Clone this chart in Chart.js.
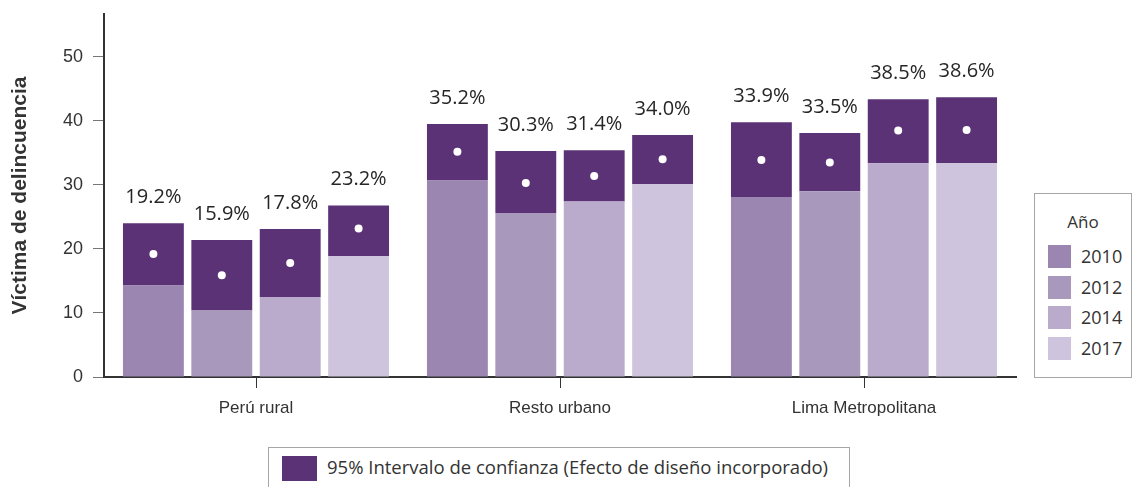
<!DOCTYPE html>
<html>
<head>
<meta charset="utf-8">
<script src="https://cdn.jsdelivr.net/npm/chart.js@4"></script>
<style>
  body { margin: 0; background: #fff; }
  #wrap { position: relative; width: 1134px; height: 487px; overflow: hidden; }
  #chart { position: absolute; left: 0; top: 0; }
  .box { position: absolute; border: 1px solid #a6a6a6; background: #fff; font-family: "Open Sans", sans-serif; color: #333; }
  #yearLegend { left: 1034px; top: 193px; width: 96px; height: 183px; }
  #yearLegend .title { position: absolute; left: 0; width: 96px; top: 16px; text-align: center; font-size: 17px; }
  #yearLegend .item { position: absolute; left: 13px; font-size: 18px; line-height: 23px; }
  #yearLegend .sw { display: inline-block; width: 23px; height: 23px; vertical-align: top; margin-right: 10px; }
  #ciLegend { left: 268px; top: 447px; width: 580px; height: 50px; }
  #ciLegend .sw { position: absolute; left: 13px; top: 8px; width: 35px; height: 25px; background: #5b3276; }
  #ciLegend .txt { position: absolute; left: 58px; top: 6px; font-size: 18.5px; white-space: nowrap; }
</style>
</head>
<body>
<div id="wrap">
  <canvas id="chart" width="1134" height="487"></canvas>
  <div class="box" id="yearLegend"><div class="title">Año</div></div>
  <div class="box" id="ciLegend"><div class="sw"></div><div class="txt">95% Intervalo de confianza (Efecto de diseño incorporado)</div></div>
</div>
<script>
"use strict";

var categories = ["Perú rural", "Resto urbano", "Lima Metropolitana"];
var years = ["2010", "2012", "2014", "2017"];

// point estimates (%)
var est2010 = [19.2, 35.2, 33.9];
var est2012 = [15.9, 30.3, 33.5];
var est2014 = [17.8, 31.4, 38.5];
var est2017 = [23.2, 34.0, 38.6];

// 95% CI bounds
var lower2010 = [14.3, 30.7, 28.1];
var upper2010 = [24.0, 39.5, 39.8];
var lower2012 = [10.4, 25.6, 29.0];
var upper2012 = [21.4, 35.3, 38.1];
var lower2014 = [12.5, 27.4, 33.4];
var upper2014 = [23.1, 35.4, 43.4];
var lower2017 = [18.9, 30.1, 33.4];
var upper2017 = [26.8, 37.8, 43.7];

var yTicks = [0, 10, 20, 30, 40, 50];

var yearColors = ["#9a86b0", "#a798bc", "#baabcc", "#cec4dd"];
var ciColor = "#5b3276";

var series = [
  { est: est2010, lo: lower2010, hi: upper2010 },
  { est: est2012, lo: lower2012, hi: upper2012 },
  { est: est2014, lo: lower2014, hi: upper2014 },
  { est: est2017, lo: lower2017, hi: upper2017 }
];

var datasets = [];
series.forEach(function (s, i) {
  // base bar up to the lower bound
  datasets.push({
    label: years[i],
    data: s.lo,
    backgroundColor: yearColors[i],
    stack: years[i]
  });
  // interval on top of it
  datasets.push({
    label: years[i] + " IC",
    data: s.hi.map(function (h, j) { return +(h - s.lo[j]).toFixed(2); }),
    backgroundColor: ciColor,
    stack: years[i],
    estimates: s.est
  });
});

// white dot at the estimate plus its label above the bar
var ciMarks = {
  id: "ciMarks",
  afterDatasetsDraw: function (chart) {
    var ctx = chart.ctx;
    var yScale = chart.scales.y;
    ctx.save();
    chart.data.datasets.forEach(function (ds, i) {
      if (!ds.estimates) return;
      var meta = chart.getDatasetMeta(i);
      meta.data.forEach(function (bar, j) {
        var est = ds.estimates[j];
        ctx.beginPath();
        ctx.arc(bar.x, yScale.getPixelForValue(est), 4, 0, Math.PI * 2);
        ctx.fillStyle = "#fff";
        ctx.fill();
        ctx.fillStyle = "#262626";
        ctx.font = "20px 'Open Sans', sans-serif";
        ctx.textAlign = "center";
        ctx.textBaseline = "alphabetic";
        ctx.fillText(est.toFixed(1) + "%", bar.x, bar.y - 20);
      });
    });
    ctx.restore();
  }
};

var legend = document.getElementById("yearLegend");
years.forEach(function (y, i) {
  var el = document.createElement("div");
  el.className = "item";
  el.style.top = (51 + i * 30.5) + "px";
  el.innerHTML = '<span class="sw" style="background:' + yearColors[i] + '"></span>' + y;
  legend.appendChild(el);
});

new Chart(document.getElementById("chart"), {
  type: "bar",
  data: { labels: categories, datasets: datasets },
  options: {
    responsive: false,
    animation: false,
    layout: { padding: { left: 0, right: 118, top: 14, bottom: 0 } },
    datasets: { bar: { categoryPercentage: 0.9, barPercentage: 0.89 } },
    plugins: { legend: { display: false }, tooltip: { enabled: false } },
    scales: {
      x: {
        stacked: true,
        afterFit: function (scale) { scale.height = 110; },
        border: { color: "#333", width: 2 },
        grid: { offset: false, drawOnChartArea: false, tickLength: 11, color: "#333" },
        ticks: {
          color: "#333",
          padding: 10,
          font: { family: "'Liberation Sans Narrow', 'Arial Narrow', sans-serif", size: 17 }
        }
      },
      y: {
        stacked: true,
        min: 0,
        max: 56.7,
        afterFit: function (scale) {
          scale.width = 104;
          // top tick is 50, so no room is needed above the axis for labels
          scale.paddingTop = 0;
        },
        afterBuildTicks: function (scale) {
          scale.ticks = yTicks.map(function (v) { return { value: v }; });
        },
        border: { color: "#333", width: 2 },
        grid: { drawOnChartArea: false, tickLength: 11, color: "#777" },
        ticks: {
          color: "#333",
          padding: 10,
          font: { family: "'Liberation Sans Narrow', 'Arial Narrow', sans-serif", size: 18 }
        },
        title: {
          display: true,
          text: "Víctima de delincuencia",
          color: "#333",
          padding: { top: 8, bottom: 0 },
          font: { family: "'Liberation Sans', Arial, sans-serif", size: 21, weight: "bold" }
        }
      }
    }
  },
  plugins: [ciMarks]
});
</script>
</body>
</html>
